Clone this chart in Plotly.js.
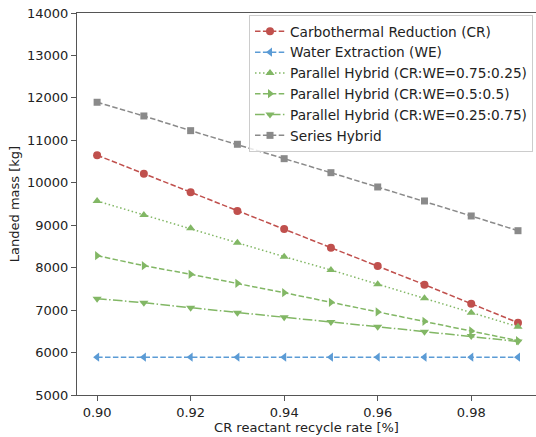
<!DOCTYPE html>
<html>
<head>
<meta charset="utf-8">
<script src="https://cdn.plot.ly/plotly-3.0.1.min.js"></script>
<style>html,body{margin:0;padding:0;background:#fff;}#chart{width:536px;height:437px;}</style>
</head>
<body>
<div id="chart"></div>
<script>
const recycleRate = [0.90, 0.91, 0.92, 0.93, 0.94, 0.95, 0.96, 0.97, 0.98, 0.99];
const carbothermal = [10650, 10215, 9776, 9336, 8911, 8471, 8040, 7599, 7151, 6704];
const waterExtraction = [5890, 5890, 5890, 5890, 5890, 5890, 5890, 5890, 5890, 5890];
const parallel75 = [9571, 9241, 8928, 8589, 8259, 7945, 7608, 7278, 6939, 6609];
const parallel50 = [8283, 8047, 7844, 7632, 7410, 7184, 6956, 6736, 6508, 6280];
const parallel25 = [7270, 7175, 7057, 6939, 6830, 6720, 6609, 6492, 6390, 6260];
const seriesHybrid = [11897, 11574, 11228, 10907, 10568, 10238, 9901, 9571, 9218, 8871];
const seriesNames = [
  "Carbothermal Reduction (CR)",
  "Water Extraction (WE)",
  "Parallel Hybrid (CR:WE=0.75:0.25)",
  "Parallel Hybrid (CR:WE=0.5:0.5)",
  "Parallel Hybrid (CR:WE=0.25:0.75)",
  "Series Hybrid"
];

const red = "#c0504d", blue = "#5b9bd5", green = "#82b765", gray = "#8a8a8a";
const dashed = "5.5px,2.4px", dotted = "1.5px,2.5px", dashdot = "9.6px,2.4px,1.5px,2.4px";

function tr(y, name, color, dash, symbol, size) {
  return {
    x: recycleRate, y: y, name: name, type: "scatter", mode: "lines+markers",
    line: {color: color, width: 1.5, dash: dash},
    marker: {color: color, symbol: symbol, size: size, line: {width: 0}}
  };
}

const data = [
  tr(carbothermal, seriesNames[0], red, dashed, "circle", 8),
  tr(waterExtraction, seriesNames[1], blue, dashed, "triangle-left", 8),
  tr(parallel75, seriesNames[2], green, dotted, "triangle-up", 8),
  tr(parallel50, seriesNames[3], green, dashed, "triangle-right", 8),
  tr(parallel25, seriesNames[4], green, dashdot, "triangle-down", 8),
  tr(seriesHybrid, seriesNames[5], gray, dashed, "square", 7)
];

const font = {family: "DejaVu Sans", size: 13, color: "#222"};
const legendFont = {family: "DejaVu Sans", size: 13.7, color: "#222"};
const layout = {
  width: 536, height: 437,
  margin: {l: 77, r: 0, t: 13, b: 42},
  paper_bgcolor: "#fff", plot_bgcolor: "#fff",
  font: font,
  showlegend: true,
  xaxis: {
    range: [0.8957, 0.99385], tick0: 0.9, dtick: 0.02, tickformat: ".2f",
    showgrid: false, zeroline: false, showline: true, linecolor: "#555", linewidth: 1, mirror: true,
    ticks: "outside", ticklen: 5, tickcolor: "#555", tickfont: font,
    title: {text: "CR reactant recycle rate [%]", font: font, standoff: 2}
  },
  yaxis: {
    range: [5000, 14000], dtick: 1000, tickformat: "d",
    showgrid: false, zeroline: false, showline: true, linecolor: "#555", linewidth: 1, mirror: true,
    ticks: "outside", ticklen: 5, tickcolor: "#555", tickfont: font,
    title: {text: "Landed mass [kg]", font: font, standoff: 4}
  },
  legend: {
    x: 0.9935, y: 0.995, xanchor: "right", yanchor: "top",
    bgcolor: "rgba(255,255,255,0.8)", bordercolor: "#ccc", borderwidth: 1,
    font: legendFont, itemwidth: 30, tracegroupgap: 0
  }
};

Plotly.newPlot("chart", data, layout, {displayModeBar: false, staticPlot: true});
</script>
</body>
</html>
